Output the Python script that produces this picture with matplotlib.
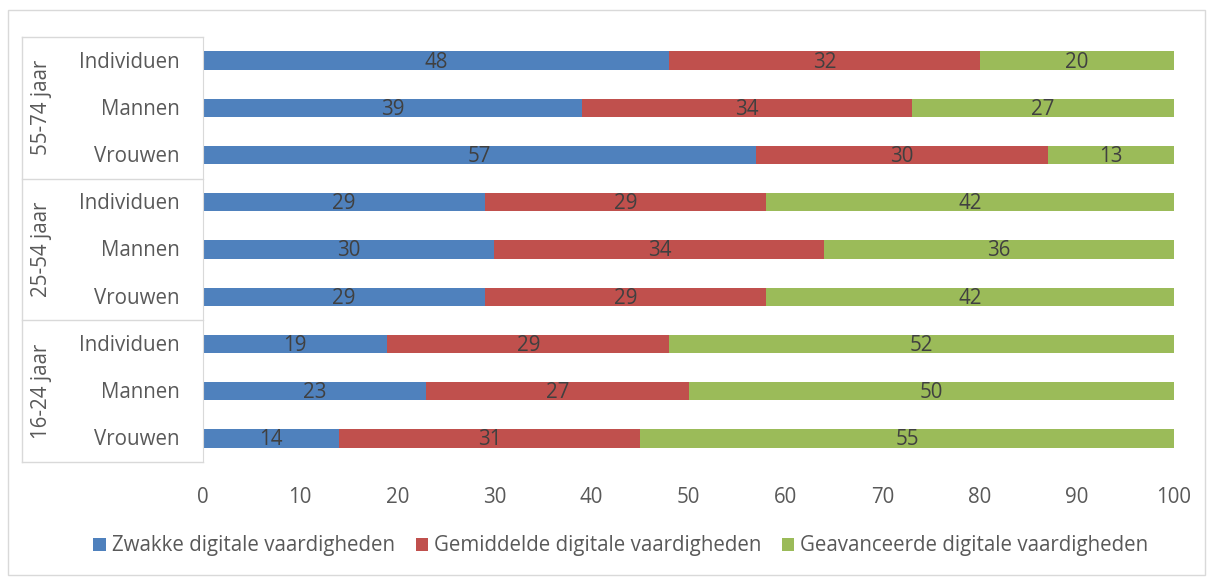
import matplotlib
matplotlib.use("Agg")
import matplotlib.pyplot as plt
from matplotlib.lines import Line2D
from matplotlib.patches import Rectangle

groups = ["55-74 jaar", "25-54 jaar", "16-24 jaar"]
categories = ["Individuen", "Mannen", "Vrouwen"] * 3
series_names = ["Zwakke digitale vaardigheden",
                "Gemiddelde digitale vaardigheden",
                "Geavanceerde digitale vaardigheden"]
zwak = [48, 39, 57, 29, 30, 29, 19, 23, 14]
gemiddeld = [32, 34, 30, 29, 34, 29, 29, 27, 31]
geavanceerd = [20, 27, 13, 42, 36, 42, 52, 50, 55]
xticks = [0, 10, 20, 30, 40, 50, 60, 70, 80, 90, 100]
colors = ["#4F81BD", "#C0504D", "#9BBB59"]

plt.rcParams['font.family'] = ['Open Sans', 'DejaVu Sans']
TXT = "#595959"
FS = 14.8
W, H = 1215, 581
fig = plt.figure(figsize=(W / 100, H / 100), dpi=100)

# outer chart border
fig.add_artist(Rectangle((8 / W, 1 - 575 / H), (1205 - 8) / W, (575 - 10) / H,
                         transform=fig.transFigure, fill=False,
                         edgecolor="#D9D9D9", lw=1))

ax_l, ax_r, ax_t, ax_b = 203, 1174, 37, 462
ax = fig.add_axes([ax_l / W, 1 - ax_b / H, (ax_r - ax_l) / W, (ax_b - ax_t) / H])

y = list(range(len(categories)))
left = [0] * len(categories)
for vals, name, c in zip([zwak, gemiddeld, geavanceerd], series_names, colors):
    bars = ax.barh(y, vals, left=left, height=0.39, color=c, label=name)
    for b, v in zip(bars, vals):
        ax.text(b.get_x() + b.get_width() / 2, b.get_y() + b.get_height() / 2 + 0.03,
                str(v), ha='center', va='center', color="#404040", fontsize=FS)
    left = [a + b for a, b in zip(left, vals)]

ax.set_xlim(0, 100)
ax.set_ylim(8.5, -0.5)
ax.set_xticks(xticks)
ax.set_xticklabels([str(t) for t in xticks], color=TXT, fontsize=FS)
ax.tick_params(axis='x', length=0, pad=18)
ax.set_yticks([])
for s in ["top", "right", "bottom"]:
    ax.spines[s].set_visible(False)
ax.spines["left"].set_color("#D9D9D9")

trans = ax.get_yaxis_transform()
span = ax_r - ax_l
for i, cat in enumerate(categories):
    ax.text(-23 / span, i + 0.03, cat, ha='right', va='center',
            color=TXT, fontsize=FS, transform=trans)

# group labels and separators
x_box = (22 - ax_l) / span
for g, name in enumerate(groups):
    ax.text((41 - ax_l) / span, g * 3 + 1, name, rotation=90,
            ha='center', va='center', color=TXT, fontsize=FS, transform=trans)
for yy in [-0.5, 2.5, 5.5, 8.5]:
    ax.add_line(Line2D([x_box, 0], [yy, yy], transform=trans, color="#D9D9D9",
                       lw=1, clip_on=False))
ax.add_line(Line2D([x_box, x_box], [-0.5, 8.5], transform=trans, color="#D9D9D9",
                   lw=1, clip_on=False))

fig.legend(loc='center', bbox_to_anchor=(621 / W, 1 - 546 / H), ncol=3,
           frameon=False, fontsize=FS, labelcolor=TXT, handlelength=0.6,
           handleheight=0.6, handletextpad=0.3, columnspacing=1.0)

fig.savefig("out.png", dpi=100)
